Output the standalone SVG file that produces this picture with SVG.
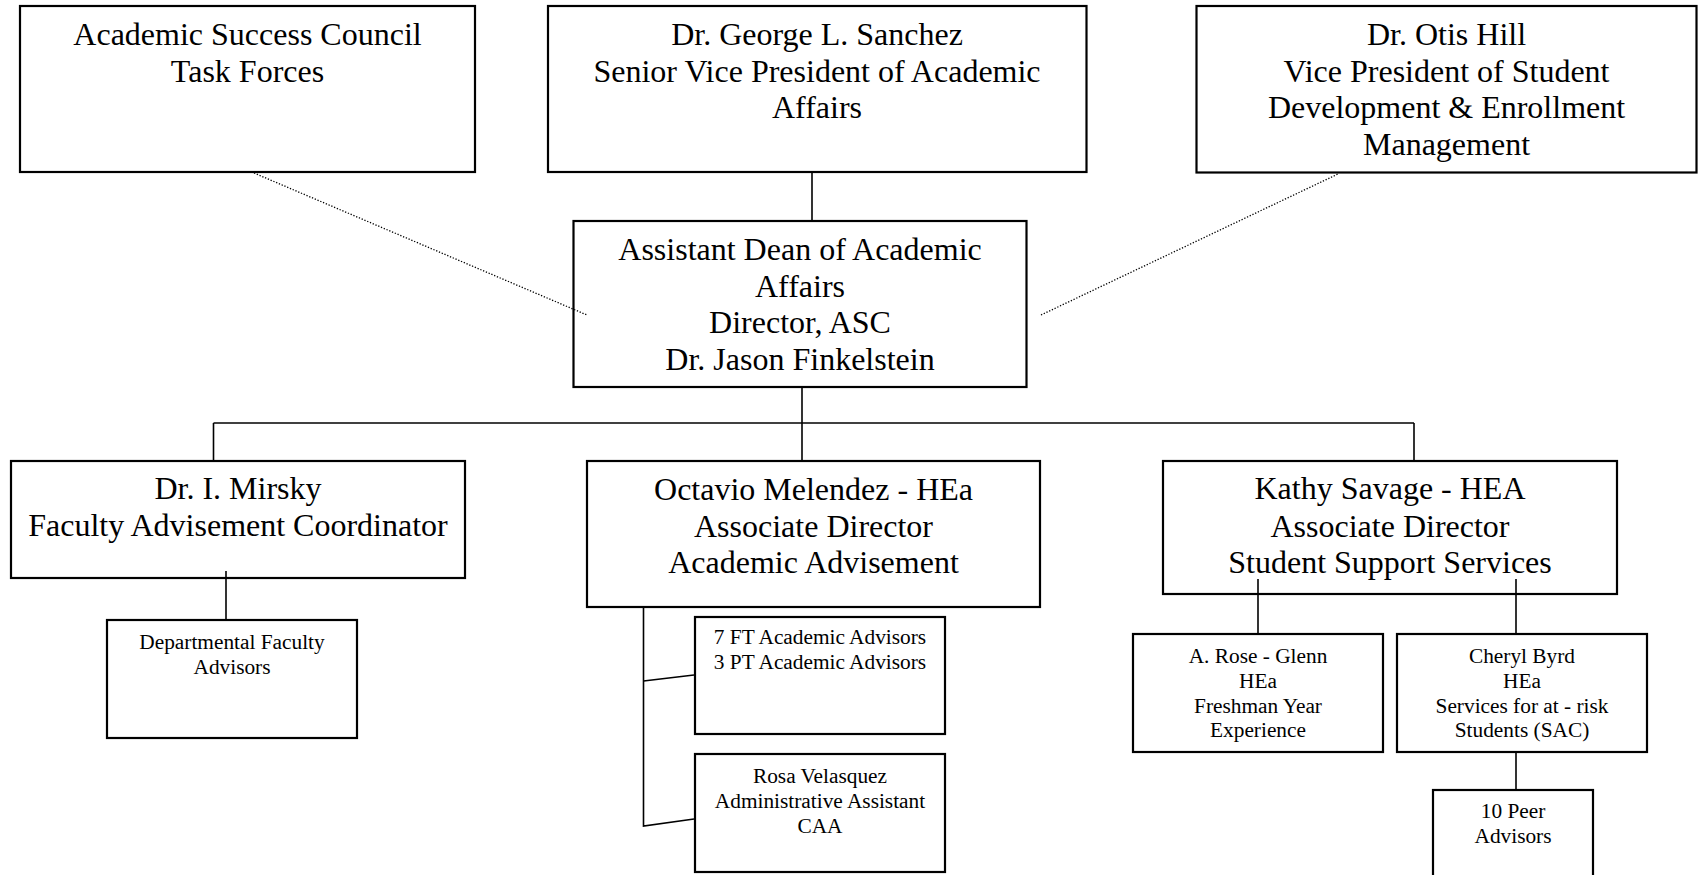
<svg xmlns="http://www.w3.org/2000/svg" width="1702" height="875" viewBox="0 0 1702 875">
<style>
.box{fill:#fff;stroke:#000;stroke-width:2.2}
.lg{font-family:"Liberation Serif","Times New Roman",serif;font-size:32px;text-anchor:middle;fill:#000}
.sm{font-family:"Liberation Serif","Times New Roman",serif;font-size:21.33px;text-anchor:middle;fill:#000}
.ln{fill:none;stroke:#000;stroke-width:1.6}
.dot{fill:none;stroke:#000;stroke-width:1.3;stroke-dasharray:1.3 1.7}
</style>
<rect width="1702" height="875" fill="#fff"/>
<g id="asc">
<rect class="box" x="20" y="6" width="455" height="166"/>
<text class="lg" x="247.5" y="45">Academic Success Council</text>
<text class="lg" x="247.5" y="81.7">Task Forces</text>
</g>
<g id="sanchez">
<rect class="box" x="548" y="6" width="538.5" height="166"/>
<text class="lg" x="817" y="45">Dr. George L. Sanchez</text>
<text class="lg" x="817" y="81.5">Senior Vice President of Academic</text>
<text class="lg" x="817" y="118.3">Affairs</text>
</g>
<g id="hill">
<rect class="box" x="1196.5" y="6" width="500" height="166.5"/>
<text class="lg" x="1446.5" y="45">Dr. Otis Hill</text>
<text class="lg" x="1446.5" y="81.5">Vice President of Student</text>
<text class="lg" x="1446.5" y="118.3">Development &amp; Enrollment</text>
<text class="lg" x="1446.5" y="155">Management</text>
</g>
<g id="dean">
<rect class="box" x="573.5" y="221" width="453" height="166"/>
<text class="lg" x="800" y="260">Assistant Dean of Academic</text>
<text class="lg" x="800" y="296.7">Affairs</text>
<text class="lg" x="800" y="333.3">Director, ASC</text>
<text class="lg" x="800" y="370">Dr. Jason Finkelstein</text>
</g>
<g id="mirsky">
<rect class="box" x="11" y="461" width="454" height="117"/>
<text class="lg" x="238" y="499.3">Dr. I. Mirsky</text>
<text class="lg" x="238" y="536">Faculty Advisement Coordinator</text>
</g>
<g id="melendez">
<rect class="box" x="587" y="461" width="453" height="146"/>
<text class="lg" x="813.5" y="500">Octavio Melendez - HEa</text>
<text class="lg" x="813.5" y="536.7">Associate Director</text>
<text class="lg" x="813.5" y="573.3">Academic Advisement</text>
</g>
<g id="savage">
<rect class="box" x="1163" y="461" width="454" height="133"/>
<text class="lg" x="1390" y="499.3">Kathy Savage - HEA</text>
<text class="lg" x="1390" y="536.7">Associate Director</text>
<text class="lg" x="1390" y="573.3">Student Support Services</text>
</g>
<g id="dept">
<rect class="box" x="107" y="620" width="250" height="118"/>
<text class="sm" x="232" y="649.3">Departmental Faculty</text>
<text class="sm" x="232" y="674">Advisors</text>
</g>
<g id="advisors">
<rect class="box" x="695" y="617" width="250" height="117"/>
<text class="sm" x="820" y="644">7 FT Academic Advisors</text>
<text class="sm" x="820" y="669.3">3 PT Academic Advisors</text>
</g>
<g id="velasquez">
<rect class="box" x="695" y="754" width="250" height="118"/>
<text class="sm" x="820" y="783.3">Rosa Velasquez</text>
<text class="sm" x="820" y="808.3">Administrative Assistant</text>
<text class="sm" x="820" y="832.7">CAA</text>
</g>
<g id="rose-glenn">
<rect class="box" x="1133" y="634" width="250" height="118"/>
<text class="sm" x="1258" y="662.7">A. Rose - Glenn</text>
<text class="sm" x="1258" y="687.7">HEa</text>
<text class="sm" x="1258" y="712.7">Freshman Year</text>
<text class="sm" x="1258" y="736.7">Experience</text>
</g>
<g id="byrd">
<rect class="box" x="1397" y="634" width="250" height="118"/>
<text class="sm" x="1522" y="662.7">Cheryl Byrd</text>
<text class="sm" x="1522" y="687.7">HEa</text>
<text class="sm" x="1522" y="712.7">Services for at - risk</text>
<text class="sm" x="1522" y="736.7">Students (SAC)</text>
</g>
<g id="peer">
<rect class="box" x="1433" y="790" width="160" height="118"/>
<text class="sm" x="1513" y="818.3">10 Peer</text>
<text class="sm" x="1513" y="843.3">Advisors</text>
</g>
<g id="connectors">
<line class="ln" x1="812" y1="173" x2="812" y2="220"/>
<line class="ln" x1="802" y1="388" x2="802" y2="423"/>
<line class="ln" x1="213.5" y1="423" x2="1414" y2="423"/>
<line class="ln" x1="213.5" y1="423" x2="213.5" y2="460"/>
<line class="ln" x1="802" y1="423" x2="802" y2="460"/>
<line class="ln" x1="1414" y1="423" x2="1414" y2="460"/>
<line class="ln" x1="226" y1="571" x2="226" y2="619"/>
<polyline class="ln" points="643.5,608 643.5,826 694,819"/>
<line class="ln" x1="643.5" y1="681" x2="694" y2="675"/>
<line class="ln" x1="1258" y1="579" x2="1258" y2="633"/>
<line class="ln" x1="1516" y1="579" x2="1516" y2="633"/>
<line class="ln" x1="1516" y1="753" x2="1516" y2="789"/>
<line class="dot" x1="254" y1="173" x2="587" y2="315"/>
<line class="dot" x1="1041" y1="315" x2="1338" y2="174"/>
</g>
</svg>
